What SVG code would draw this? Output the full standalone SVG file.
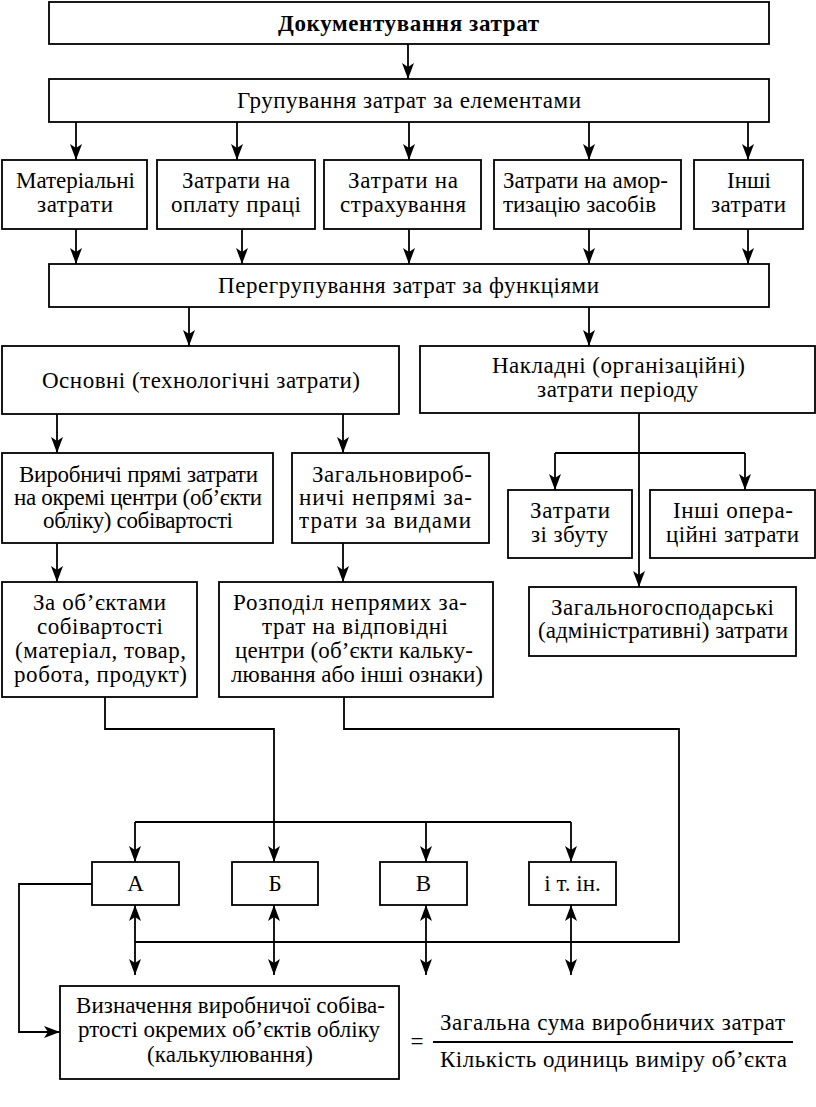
<svg xmlns="http://www.w3.org/2000/svg" width="816" height="1107" viewBox="0 0 816 1107">
<style>
.b{fill:#fff;stroke:#000;stroke-width:1.8}
.t{font-family:"Liberation Serif","Times New Roman",serif;font-size:23px;fill:#000;text-anchor:middle}
.l{fill:none;stroke:#000;stroke-width:1.8}
.a{marker-end:url(#ah)}
.d{marker-start:url(#ah);marker-end:url(#ah)}
</style>
<defs>
<marker id="ah" markerUnits="userSpaceOnUse" markerWidth="16" markerHeight="12" viewBox="0 0 16 12" refX="16" refY="6" orient="auto-start-reverse">
<path d="M0,0 L16,6 L0,12 L4,6 Z" fill="#000"/>
</marker>
</defs>
<rect width="816" height="1107" fill="#fff"/>
<g id="connectors">
<line class="l a" x1="408" y1="44" x2="408" y2="79"/>
<line class="l a" x1="76" y1="122" x2="76" y2="160"/>
<line class="l a" x1="237" y1="122" x2="237" y2="160"/>
<line class="l a" x1="409" y1="122" x2="409" y2="160"/>
<line class="l a" x1="589" y1="122" x2="589" y2="160"/>
<line class="l a" x1="748" y1="122" x2="748" y2="160"/>
<line class="l a" x1="76" y1="229" x2="76" y2="264"/>
<line class="l a" x1="242" y1="229" x2="242" y2="264"/>
<line class="l a" x1="409" y1="229" x2="409" y2="264"/>
<line class="l a" x1="589" y1="229" x2="589" y2="264"/>
<line class="l a" x1="748" y1="229" x2="748" y2="264"/>
<line class="l a" x1="189" y1="307" x2="189" y2="346"/>
<line class="l a" x1="589" y1="307" x2="589" y2="346"/>
<line class="l a" x1="57" y1="414" x2="57" y2="453"/>
<line class="l a" x1="343" y1="414" x2="343" y2="453"/>
<line class="l a" x1="639" y1="413" x2="639" y2="587"/>
<line class="l" x1="555" y1="453" x2="745" y2="453"/>
<line class="l a" x1="555" y1="453" x2="555" y2="490"/>
<line class="l a" x1="745" y1="453" x2="745" y2="490"/>
<line class="l a" x1="57" y1="543" x2="57" y2="582"/>
<line class="l a" x1="343" y1="543" x2="343" y2="582"/>
<polyline class="l a" points="105,697 105,729 274,729 274,862"/>
<line class="l" x1="135" y1="822" x2="571" y2="822"/>
<line class="l a" x1="135" y1="822" x2="135" y2="862"/>
<line class="l a" x1="426" y1="822" x2="426" y2="862"/>
<line class="l a" x1="571" y1="822" x2="571" y2="862"/>
<polyline class="l" points="344,697 344,729 679,729 679,942 135,942"/>
<line class="l d" x1="135" y1="905" x2="135" y2="975"/>
<line class="l d" x1="274" y1="905" x2="274" y2="975"/>
<line class="l d" x1="426" y1="905" x2="426" y2="975"/>
<line class="l d" x1="571" y1="905" x2="571" y2="975"/>
<polyline class="l a" points="92,884 19,884 19,1032 60,1032"/>
</g>
<g id="n1"><rect class="b" x="49" y="2" width="720" height="42"/><text class="t" x="408.5" y="31" font-weight="bold" textLength="261" lengthAdjust="spacing">Документування затрат</text></g>
<g id="n2"><rect class="b" x="49" y="79" width="720" height="43"/><text class="t" x="409" y="108" textLength="344" lengthAdjust="spacing">Групування затрат за елементами</text></g>
<g id="n3a"><rect class="b" x="2" y="160" width="145" height="69"/><text class="t" x="75.5" y="188" textLength="119" lengthAdjust="spacing">Матеріальні</text><text class="t" x="75" y="212" textLength="76" lengthAdjust="spacing">затрати</text></g>
<g id="n3b"><rect class="b" x="157" y="160" width="158" height="69"/><text class="t" x="236" y="188" textLength="108" lengthAdjust="spacing">Затрати на</text><text class="t" x="236" y="212" textLength="130" lengthAdjust="spacing">оплату праці</text></g>
<g id="n3c"><rect class="b" x="324" y="160" width="157" height="69"/><text class="t" x="403" y="188" textLength="110" lengthAdjust="spacing">Затрати на</text><text class="t" x="403" y="212" textLength="126" lengthAdjust="spacing">страхування</text></g>
<g id="n3d"><rect class="b" x="494" y="160" width="187" height="69"/><text class="t" x="585.5" y="188" textLength="165" lengthAdjust="spacing">Затрати на амор-</text><text class="t" x="579.5" y="212" textLength="153" lengthAdjust="spacing">тизацію засобів</text></g>
<g id="n3e"><rect class="b" x="694" y="160" width="109" height="69"/><text class="t" x="749" y="188" textLength="44" lengthAdjust="spacing">Інші</text><text class="t" x="748.5" y="212" textLength="75" lengthAdjust="spacing">затрати</text></g>
<g id="n4"><rect class="b" x="49" y="264" width="720" height="43"/><text class="t" x="408.5" y="293" textLength="381" lengthAdjust="spacing">Перегрупування затрат за функціями</text></g>
<g id="n5a"><rect class="b" x="2" y="346" width="397" height="68"/><text class="t" x="201" y="388" textLength="318" lengthAdjust="spacing">Основні (технологічні затрати)</text></g>
<g id="n5b"><rect class="b" x="420" y="346" width="395" height="67"/><text class="t" x="618.5" y="373" textLength="253" lengthAdjust="spacing">Накладні (організаційні)</text><text class="t" x="617.5" y="397" textLength="161" lengthAdjust="spacing">затрати періоду</text></g>
<g id="n6a"><rect class="b" x="2" y="453" width="271" height="90"/><text class="t" x="138.5" y="482" textLength="239" lengthAdjust="spacing">Виробничі прямі затрати</text><text class="t" x="138" y="505" textLength="248" lengthAdjust="spacing">на окремі центри (об’єкти</text><text class="t" x="138" y="528" textLength="190" lengthAdjust="spacing">обліку) собівартості</text></g>
<g id="n6b"><rect class="b" x="292" y="453" width="197" height="90"/><text class="t" x="392" y="482" textLength="160" lengthAdjust="spacing">Загальновироб-</text><text class="t" x="385.5" y="505" textLength="173" lengthAdjust="spacing">ничі непрямі за-</text><text class="t" x="385" y="528" textLength="172" lengthAdjust="spacing">трати за видами</text></g>
<g id="n7a"><rect class="b" x="508" y="490" width="124" height="68"/><text class="t" x="570" y="518" textLength="80" lengthAdjust="spacing">Затрати</text><text class="t" x="569.5" y="542" textLength="77" lengthAdjust="spacing">зі збуту</text></g>
<g id="n7b"><rect class="b" x="650" y="490" width="165" height="68"/><text class="t" x="733" y="518" textLength="120" lengthAdjust="spacing">Інші опера-</text><text class="t" x="732.5" y="542" textLength="133" lengthAdjust="spacing">ційні затрати</text></g>
<g id="n8"><rect class="b" x="529" y="587" width="267" height="69"/><text class="t" x="662.5" y="615" textLength="223" lengthAdjust="spacing">Загальногосподарські</text><text class="t" x="663" y="638" textLength="250" lengthAdjust="spacing">(адміністративні) затрати</text></g>
<g id="n9a"><rect class="b" x="2" y="582" width="195" height="115"/><text class="t" x="99.5" y="610" textLength="133" lengthAdjust="spacing">За об’єктами</text><text class="t" x="100" y="634" textLength="126" lengthAdjust="spacing">собівартості</text><text class="t" x="100.5" y="658" textLength="171" lengthAdjust="spacing">(матеріал, товар,</text><text class="t" x="100.5" y="682" textLength="173" lengthAdjust="spacing">робота, продукт)</text></g>
<g id="n9b"><rect class="b" x="219" y="582" width="274" height="115"/><text class="t" x="350" y="610" textLength="234" lengthAdjust="spacing">Розподіл непрямих за-</text><text class="t" x="355" y="634" textLength="186" lengthAdjust="spacing">трат на відповідні</text><text class="t" x="354" y="658" textLength="238" lengthAdjust="spacing">центри (об’єкти кальку-</text><text class="t" x="357" y="682" textLength="252" lengthAdjust="spacing">лювання або інші ознаки)</text></g>
<g id="nA"><rect class="b" x="92" y="862" width="87" height="43"/><text class="t" x="135.5" y="891">А</text></g>
<g id="nB"><rect class="b" x="232" y="862" width="86" height="43"/><text class="t" x="275" y="891">Б</text></g>
<g id="nV"><rect class="b" x="380" y="862" width="87" height="43"/><text class="t" x="423.5" y="891">В</text></g>
<g id="nI"><rect class="b" x="529" y="862" width="87" height="43"/><text class="t" x="572.5" y="891">і т. ін.</text></g>
<g id="n10"><rect class="b" x="60" y="986" width="339" height="93"/><text class="t" x="230.5" y="1013" textLength="309" lengthAdjust="spacing">Визначення виробничої собіва-</text><text class="t" x="229" y="1037" textLength="302" lengthAdjust="spacing">ртості окремих об’єктів обліку</text><text class="t" x="230" y="1062" textLength="166" lengthAdjust="spacing">(калькулювання)</text></g>
<g id="formula">
<text class="t" x="417" y="1049">=</text>
<line x1="433" y1="1042" x2="793" y2="1042" stroke="#000" stroke-width="1.8"/>
<text class="t" x="612.5" y="1030" textLength="345" lengthAdjust="spacing">Загальна сума виробничих затрат</text>
<text class="t" x="613.5" y="1067" textLength="347" lengthAdjust="spacing">Кількість одиниць виміру об’єкта</text>
</g>
</svg>
